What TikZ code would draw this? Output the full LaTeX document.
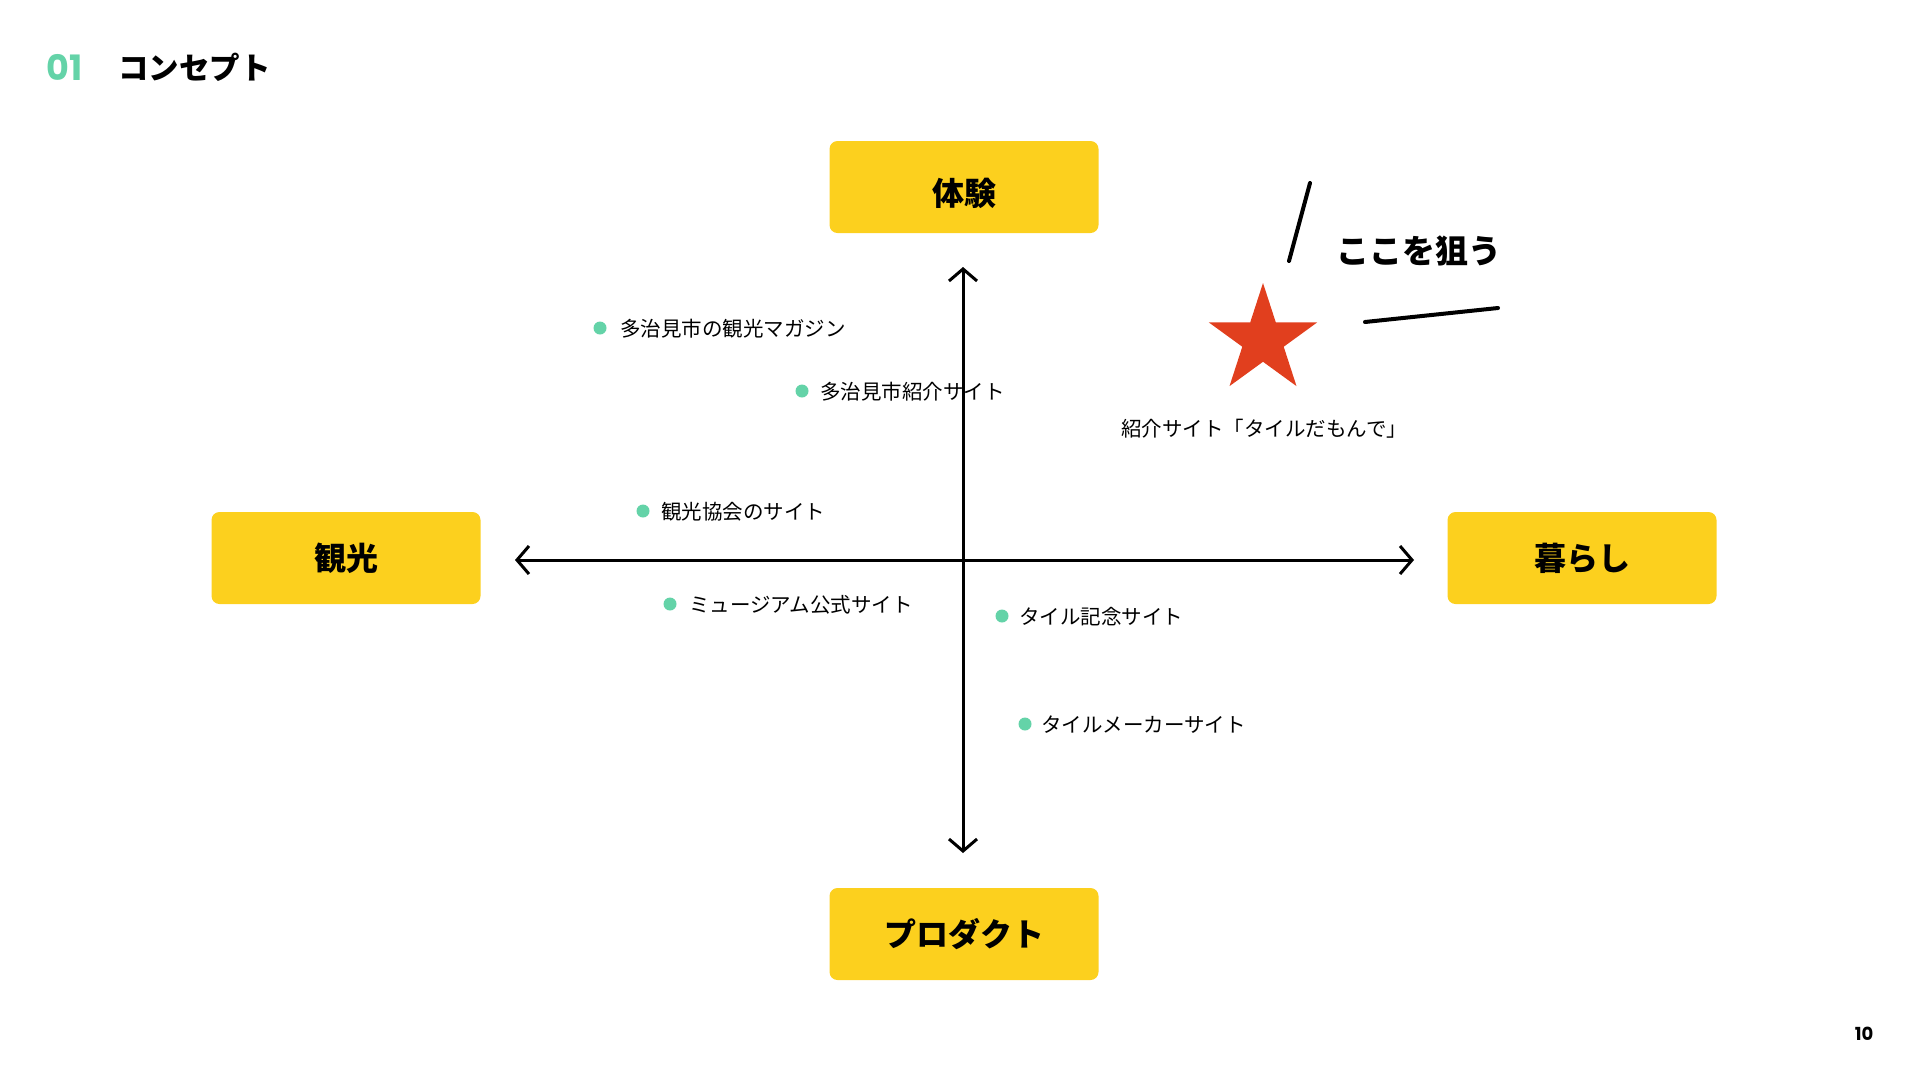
\documentclass[tikz,border=0pt]{standalone}
\usepackage{fontspec}
\setmainfont{Poppins}
\newfontfamily\jpfont{Noto Sans CJK JP}
\usetikzlibrary{arrows.meta,shapes.geometric}

\definecolor{tileyellow}{HTML}{FCD01E}
\definecolor{mintgreen}{HTML}{64D3A8}
\definecolor{starred}{HTML}{E13F1E}

\tikzset{
  axisbox/.style={fill=tileyellow, rounded corners=8pt, minimum width=269pt, minimum height=92pt,
    inner sep=0pt, font=\jpfont\bfseries\fontsize{32}{32}\selectfont},
  sitedot/.style={circle, fill=mintgreen, minimum size=13pt, inner sep=0pt},
  siteitem/.style={anchor=west, inner sep=0pt, font=\jpfont\fontsize{20.5}{20.5}\selectfont},
  axisline/.style={line width=3pt, {Straight Barb[length=12pt,width=28pt]}-{Straight Barb[length=12pt,width=28pt]}},
  penstroke/.style={line width=4pt, line cap=round}
}

\begin{document}
\begin{tikzpicture}[x=1pt, y=-1pt]
    \useasboundingbox (0,0) rectangle (1920,1080);
    % Title
    \node[anchor=west, inner sep=0pt, text=mintgreen, font=\bfseries\fontsize{35}{35}\selectfont] (secno) at (46,67) {01};
    \node[anchor=west, inner sep=0pt, font=\jpfont\bfseries\fontsize{30.5}{30.5}\selectfont] (title) at (118,67) {コンセプト};
    % Axis boxes
    \node[axisbox] (taiken) at (964,187) {\raisebox{-6pt}[\height][\depth]{体験}};
    \node[axisbox] (kanko) at (346,558) {観光};
    \node[axisbox] (kurashi) at (1582,558) {暮らし};
    \node[axisbox] (product) at (964,934) {プロダクト};
    % Axes
    \coordinate (vtop) at (963,267);
    \coordinate (vbot) at (963,853);
    \coordinate (hleft) at (515,560);
    \coordinate (hright) at (1414,560);
    \draw[axisline] (vtop) -- (vbot);
    \draw[axisline] (hleft) -- (hright);
    % Sites
    \node[sitedot] (dot1) at (600,328) {};
    \node[siteitem] (site1) at (620,329) {多治見市の観光マガジン};
    \node[sitedot] (dot2) at (802,391) {};
    \node[siteitem] (site2) at (820,392) {多治見市紹介サイト};
    \node[sitedot] (dot3) at (643,511) {};
    \node[siteitem] (site3) at (661,512) {観光協会のサイト};
    \node[sitedot] (dot4) at (670,604) {};
    \node[siteitem] (site4) at (689,605) {ミュージアム公式サイト};
    \node[sitedot] (dot5) at (1002,616) {};
    \node[siteitem] (site5) at (1019,617) {タイル記念サイト};
    \node[sitedot] (dot6) at (1025,724) {};
    \node[siteitem] (site6) at (1041,725) {タイルメーカーサイト};
    % Target: star
    \node[star, star points=5, star point ratio=2.618, minimum size=114pt, inner sep=0pt, fill=starred] (target) at (1263,340) {};
    \node[inner sep=0pt, font=\jpfont\fontsize{20.5}{20.5}\selectfont] (targetlabel) at (1264,429) {紹介サイト「タイルだもんで」};
    \node[anchor=west, inner sep=0pt, font=\jpfont\bfseries\fontsize{33}{33}\selectfont] (aim) at (1336,251) {ここを狙う};
    \coordinate (pen1a) at (1310,183);
    \coordinate (pen1b) at (1289,261);
    \coordinate (pen2a) at (1365,322);
    \coordinate (pen2b) at (1498,308);
    \draw[penstroke] (pen1a) -- (pen1b);
    \draw[penstroke] (pen2a) -- (pen2b);
    % Page number
    \node[inner sep=0pt, font=\bfseries\fontsize{18}{18}\selectfont] (pageno) at (1864,1034) {10};
  \end{tikzpicture}
\end{document}
